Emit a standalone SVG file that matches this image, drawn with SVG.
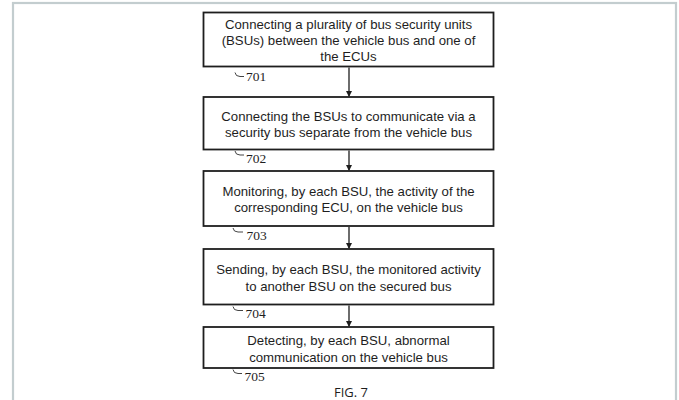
<svg xmlns="http://www.w3.org/2000/svg" width="679" height="400" viewBox="0 0 679 400">
  <defs>
    <marker id="arrow" markerWidth="6" markerHeight="6" refX="5" refY="3" orient="auto" markerUnits="userSpaceOnUse">
      <path d="M0,0 L6,3 L0,6 Z" fill="#1e1e1e"/>
    </marker>
    <style>
      .frame { fill: #ffffff; stroke: #c3cdcf; stroke-width: 2.2; }
      .box { fill: #ffffff; stroke: #1e1e1e; stroke-width: 1.8; }
      .step { font-family: "Liberation Sans", Arial, sans-serif; font-size: 13.2px; fill: #1e1e1e; text-anchor: middle; }
      .ref { font-family: "Liberation Serif", "Times New Roman", serif; font-size: 13.5px; fill: #1e1e1e; }
      .hook { fill: none; stroke: #444444; stroke-width: 1; }
      .edge { stroke: #1e1e1e; stroke-width: 1.3; fill: none; marker-end: url(#arrow); }
      .caption { font-family: "Open Sans", "Liberation Sans", sans-serif; font-size: 13px; fill: #1e1e1e; text-anchor: middle; }
    </style>
  </defs>

  <!-- page frame -->
  <rect class="frame" x="13" y="3" width="663" height="402"/>

  <!-- process steps -->
  <g id="step-701">
    <rect class="box" x="203.5" y="12.5" width="290" height="54"/>
    <text class="step" x="348.5" y="28.5">Connecting a plurality of bus security units</text>
    <text class="step" x="348.5" y="44.8">(BSUs) between the vehicle bus and one of</text>
    <text class="step" x="348.5" y="61">the ECUs</text>
    <path class="hook" d="M235,72.5 q0.5,4 5,4 h4"/>
    <text class="ref" x="246" y="81">701</text>
  </g>

  <g id="step-702">
    <rect class="box" x="203.5" y="97" width="290" height="52.5"/>
    <text class="step" x="348.5" y="120.8">Connecting the BSUs to communicate via a</text>
    <text class="step" x="348.5" y="137">security bus separate from the vehicle bus</text>
    <path class="hook" d="M235,151 q0.5,4 5,4 h4"/>
    <text class="ref" x="246" y="162.5">702</text>
  </g>

  <g id="step-703">
    <rect class="box" x="203.5" y="171" width="290" height="55"/>
    <text class="step" x="348.5" y="196">Monitoring, by each BSU, the activity of the</text>
    <text class="step" x="348.5" y="212.3">corresponding ECU, on the vehicle bus</text>
    <path class="hook" d="M233,228 q0.5,4 5,4 h5"/>
    <text class="ref" x="246.5" y="240">703</text>
  </g>

  <g id="step-704">
    <rect class="box" x="203.5" y="249" width="290" height="55.5"/>
    <text class="step" x="348.5" y="274">Sending, by each BSU, the monitored activity</text>
    <text class="step" x="348.5" y="290.5">to another BSU on the secured bus</text>
    <path class="hook" d="M233,306.5 q0.5,4 5,4 h5"/>
    <text class="ref" x="245.5" y="318">704</text>
  </g>

  <g id="step-705">
    <rect class="box" x="203.5" y="327" width="290" height="41"/>
    <text class="step" x="348.5" y="345">Detecting, by each BSU, abnormal</text>
    <text class="step" x="348.5" y="361.5">communication on the vehicle bus</text>
    <path class="hook" d="M233,369.5 q0.5,4 5,4 h4"/>
    <text class="ref" x="244.5" y="380.5">705</text>
  </g>

  <!-- connectors -->
  <g id="connectors">
    <path class="edge" d="M349,67.5 V96"/>
    <path class="edge" d="M349,150.5 V170"/>
    <path class="edge" d="M349,227 V248"/>
    <path class="edge" d="M349,305.5 V326"/>
  </g>

  <text class="caption" x="351" y="396.5">FIG. 7</text>
</svg>
